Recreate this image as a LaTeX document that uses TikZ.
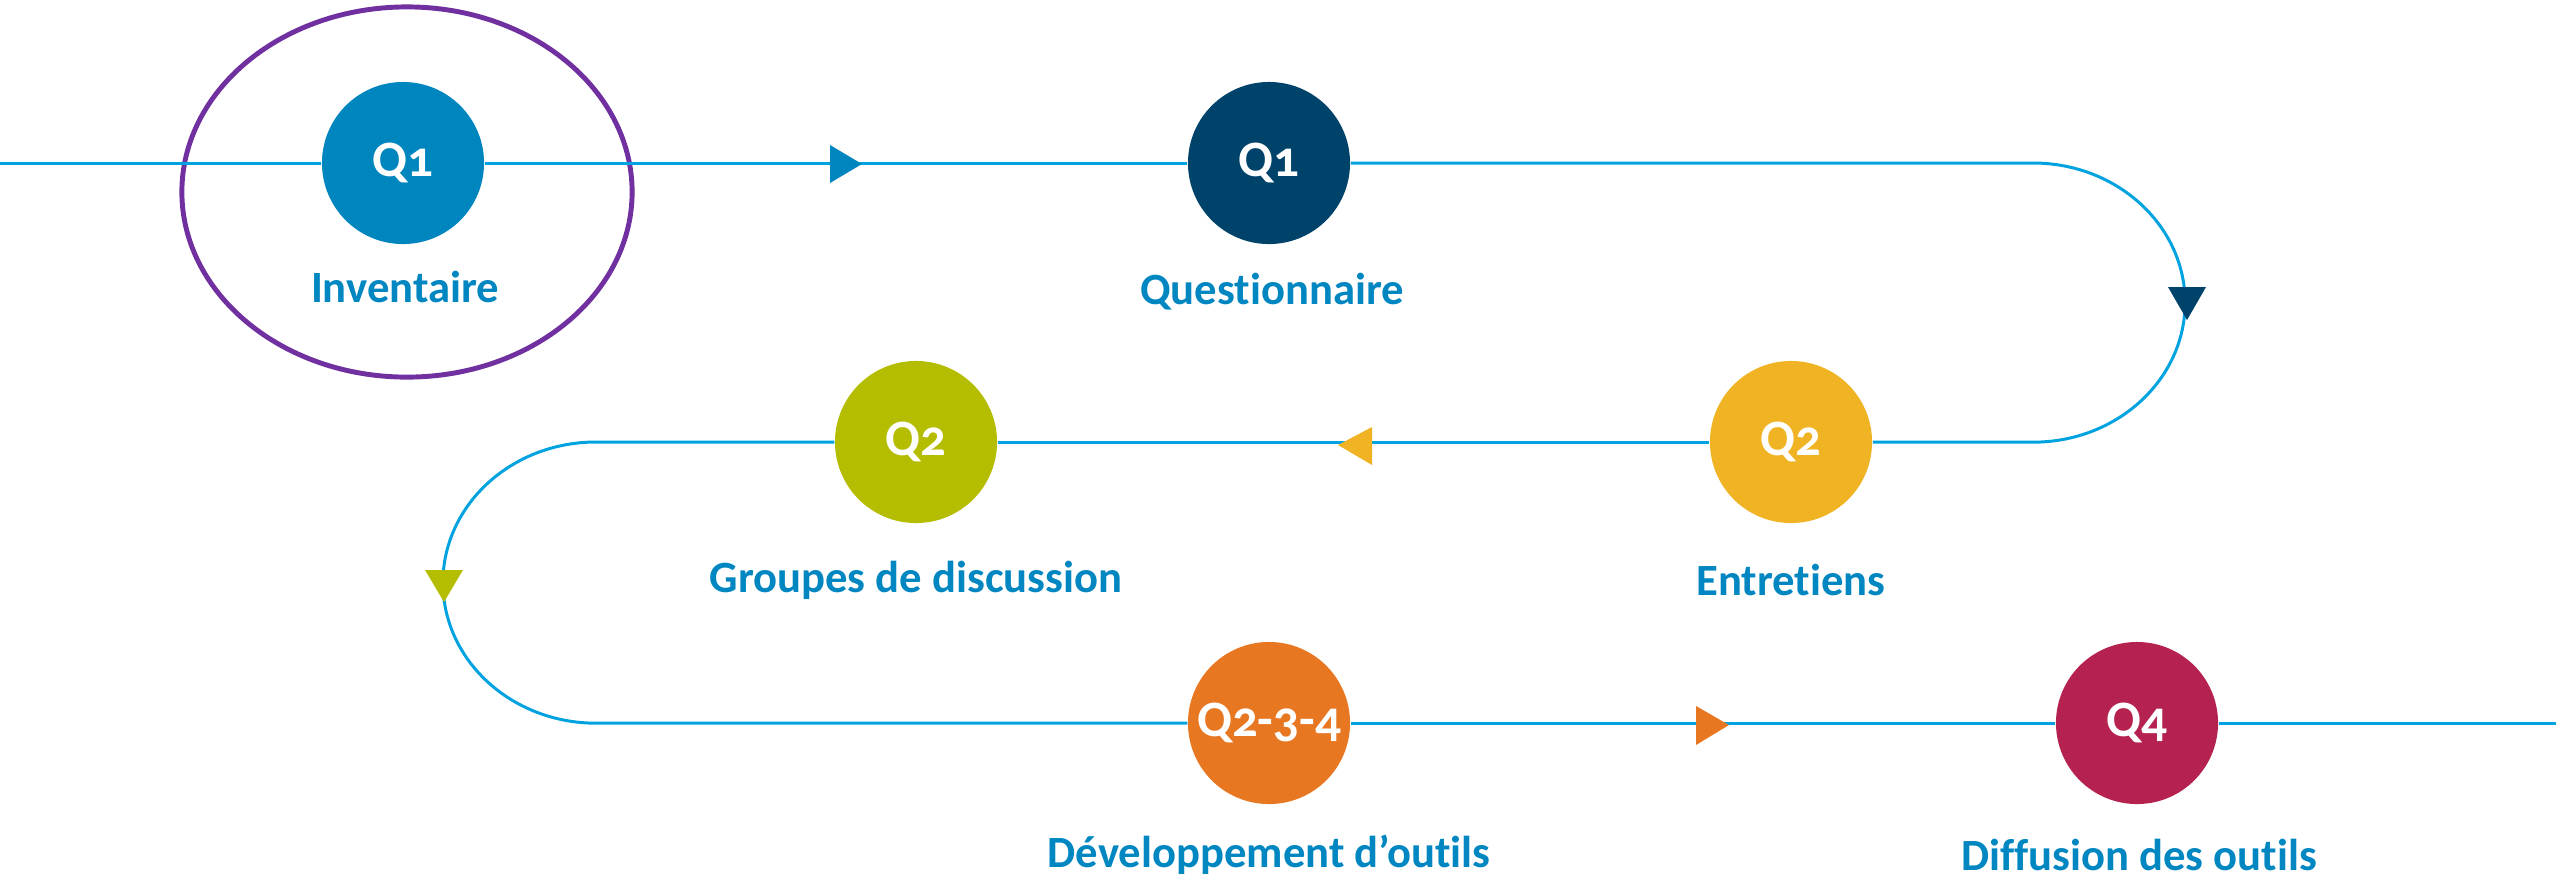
\documentclass[tikz,border=0pt]{standalone}
\usepackage{fontspec}
\setmainfont{Carlito}[Ligatures=NoCommon]
\newfontfamily\qfont[Numbers=OldStyle,Ligatures=NoCommon]{Carlito}
\definecolor{linecol}{HTML}{00A3E0}
\definecolor{labelcol}{HTML}{0086C0}
\definecolor{qblue}{HTML}{0086BF}
\definecolor{qnavy}{HTML}{00436A}
\definecolor{qyellow}{HTML}{F0B323}
\definecolor{qgreen}{HTML}{B5BD00}
\definecolor{qorange}{HTML}{E87722}
\definecolor{qmagenta}{HTML}{B5224F}
\definecolor{ringcol}{HTML}{7030A0}
\tikzset{
  qcircle/.style={circle, fill=#1, minimum size=1.62cm, inner sep=0pt, text=white, font=\qfont\bfseries\fontsize{14.5}{16}\selectfont},
  steplabel/.style={text=labelcol, font=\bfseries\fontsize{12.7}{15}\selectfont, inner sep=0pt},
  track/.style={draw=linecol, line width=0.85pt},
  ring/.style={draw=ringcol, line width=1.4pt},
  tip/.style={fill=#1}
}
\begin{document}
\begin{tikzpicture}[x=0.01cm,y=-0.01cm]
\useasboundingbox (0,0) rectangle (2560,887);
% ring
\draw[ring] (407,192) ellipse [x radius=2.25cm, y radius=1.85cm];
% step circles
\node[qcircle=qblue] (q1a) at (403,163) {Q1};
\node[qcircle=qnavy] (q1b) at (1269,163) {Q1};
\node[qcircle=qyellow] (q2y) at (1791,442) {Q2};
\node[qcircle=qgreen] (q2g) at (916,442) {Q2};
\node[qcircle=qorange] (q234) at (1269,723) {Q2-3-4};
\node[qcircle=qmagenta] (q4) at (2137,723) {Q4};
% labels
\node[steplabel] (l1) at (405,287) {Inventaire};
\node[steplabel] (l2) at (1272,292) {Questionnaire};
\node[steplabel] (l3) at (1791,580) {Entretiens};
\node[steplabel] (l4) at (916,580) {Groupes de discussion};
\node[steplabel] (l5) at (1269,855) {Développement d’outils};
\node[steplabel] (l6) at (2139,855) {Diffusion des outils};
% track coordinates
\coordinate (start) at (0,163);
\coordinate (r1) at (2033,163);
\coordinate (r2) at (596,442);
\coordinate (stop) at (2556,723);
% track
\draw[track] (start) -- (q1a);
\draw[track] (q1a) -- (q1b);
\draw[track] (q1b) -- (r1) arc[start angle=90, end angle=-90, x radius=1.52cm, y radius=1.395cm] -- (q2y);
\draw[track] (q2y) -- (q2g);
\draw[track] (q2g) -- (r2) arc[start angle=90, end angle=270, x radius=1.53cm, y radius=1.405cm] -- (q234);
\draw[track] (q234) -- (q4);
\draw[track] (q4) -- (stop);
% arrow tips
\fill[tip=qblue] (830,145) -- (862,164) -- (830,183) -- cycle;
\fill[tip=qnavy] (2168,287) -- (2206,287) -- (2187,320) -- cycle;
\fill[tip=qyellow] (1372,427) -- (1338,445) -- (1372,465) -- cycle;
\fill[tip=qgreen] (425,570) -- (463,570) -- (444,602) -- cycle;
\fill[tip=qorange] (1696,706) -- (1729,725) -- (1696,745) -- cycle;
\end{tikzpicture}
\end{document}
